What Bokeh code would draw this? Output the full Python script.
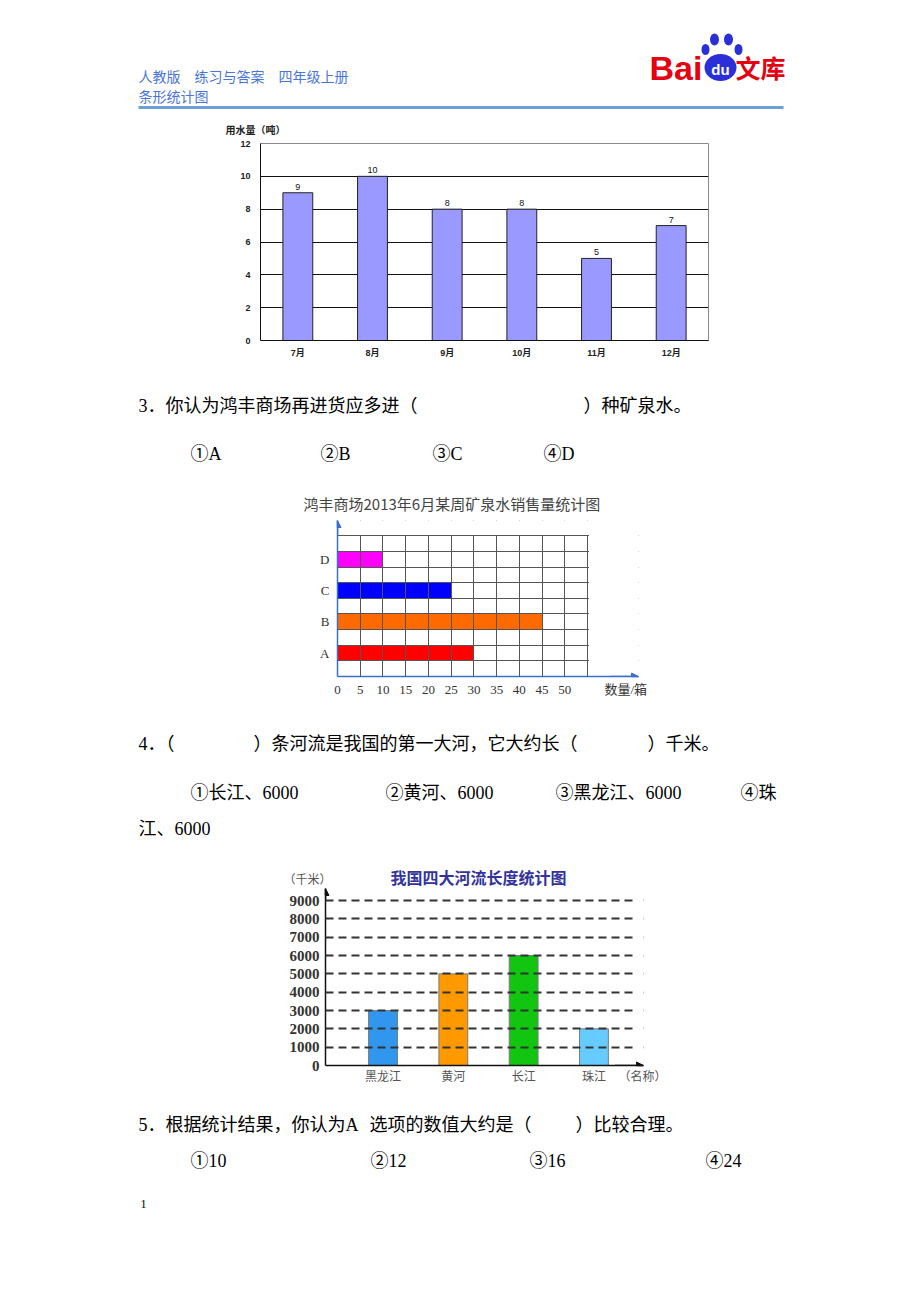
from bokeh.plotting import figure
from bokeh.layouts import column, row
from bokeh.models import Range1d, FactorRange, FixedTicker, BoxAnnotation, Arrow, NormalHead
from bokeh.core.properties import value
from bokeh.embed import file_html
from bokeh.resources import INLINE

# ---------------- data ----------------
months = ["7月", "8月", "9月", "10月", "11月", "12月"]
water_tons = [9, 10, 8, 8, 5, 7]
water_ticks = [0, 2, 4, 6, 8, 10, 12]
water_title = "用水量（吨）"

products = ["A", "B", "C", "D"]
sales_boxes = [30, 45, 25, 10]
product_colors = ["#FF0000", "#FF6A00", "#0000FF", "#FF00FF"]
sales_ticks = [0, 5, 10, 15, 20, 25, 30, 35, 40, 45, 50]
sales_grid = [0, 5, 10, 15, 20, 25, 30, 35, 40, 45, 50, 55]
sales_rows = [0, 1, 2, 3, 4, 5, 6, 7, 8, 9]
sales_title = "鸿丰商场2013年6月某周矿泉水销售量统计图"
sales_unit = "数量/箱"

rivers = ["黑龙江", "黄河", "长江", "珠江"]
river_km = [3000, 5000, 6000, 2000]
river_colors = ["#3096EE", "#FF9900", "#11C511", "#66CCFF"]
km_ticks = [0, 1000, 2000, 3000, 4000, 5000, 6000, 7000, 8000, 9000]
river_title = "我国四大河流长度统计图"
river_yunit = "（千米）"
river_xunit = "（名称）"

header_1 = "人教版　练习与答案　四年级上册"
header_2 = "条形统计图"
q3 = ["3．你认为鸿丰商场再进货应多进（", "）种矿泉水。"]
q3_opts = ["①A", "②B", "③C", "④D"]
q4 = ["4．（", "）条河流是我国的第一大河，它大约长（", "）千米。"]
q4_opts = ["①长江、6000", "②黄河、6000", "③黑龙江、6000", "④珠"]
q4_cont = "江、6000"
q5 = ["5．根据统计结果，你认为A", "选项的数值大约是（", "）比较合理。"]
q5_opts = ["①10", "②12", "③16", "④24"]
page_no = "1"

# ---------------- helpers ----------------
W = 920
CJK = "Noto Sans CJK SC"
SERIF = "Liberation Serif, Noto Sans CJK SC"
SANS = "Liberation Sans, Noto Sans CJK SC"


def no_align(p):
    if "frame_align" in p.properties():
        p.frame_align = False
    return p


def text_fig(y0, y1):
    p = figure(width=W, height=y1 - y0, x_range=Range1d(0, W), y_range=Range1d(y1, y0),
               x_axis_type=None, y_axis_type=None, output_backend="svg",
               toolbar_location=None, min_border=0)
    p.outline_line_color = None
    p.background_fill_color = "white"
    p.border_fill_color = "white"
    return no_align(p)


def put(p, x, y, s, size, color="#000000", font=SERIF, style="normal", align="left"):
    p.text(x=[x], y=[y], text=[s], text_font=value(font), text_font_size=f"{size}px",
           text_color=color, text_baseline="middle", text_align=align, text_font_style=style)


def chart_fig(height, xr, yr, left, right, top, bottom):
    p = figure(width=W, height=height, x_range=xr, y_range=yr, output_backend="svg",
               toolbar_location=None, min_border_left=left, min_border_right=right,
               min_border_top=top, min_border_bottom=bottom)
    p.background_fill_color = "white"
    p.border_fill_color = "white"
    p.axis.major_tick_line_color = None
    p.axis.minor_tick_line_color = None
    p.axis.major_tick_out = 0
    p.axis.major_tick_in = 0
    return no_align(p)


def mask(p, **kw):
    p.add_layout(BoxAnnotation(fill_color="white", fill_alpha=1, line_color=None,
                               level="annotation", **kw))


# ---------------- header (0..137) ----------------
f1 = text_fig(0, 137)
put(f1, 138, 75, header_1, 14, "#4A76D6", CJK)
put(f1, 138, 95, header_2, 14, "#4A76D6", CJK)
f1.line(x=[138, 783], y=[107, 107], line_color="#6A9FD8", line_width=3)
# logo
put(f1, 649, 67, "Bai", 34, "#E50012", "Liberation Sans", "bold")
f1.ellipse(x=[720], y=[67], width=32, height=27, fill_color="#2B2FD8", line_color=None)
f1.ellipse(x=[705, 714, 728, 738], y=[49, 39, 39, 49], width=[8, 9, 9, 8],
           height=[11, 12, 12, 11], fill_color="#2B2FD8", line_color=None)
put(f1, 720, 69, "du", 15, "#FFFFFF", "Liberation Sans", "bold", "center")
put(f1, 735, 66, "文库", 25, "#E50012", CJK, "bold")
put(f1, 225, 129, water_title, 10, "#222222", CJK, "bold")

# ---------------- chart 1 (137..368) ----------------
p1 = chart_fig(231, FactorRange(factors=months, range_padding=0), Range1d(0, 12),
               260, 212, 6, 28)
p1.vbar(x=months, top=water_tons, width=0.4, fill_color="#9999FF", line_color="#222222",
        line_width=1)
p1.text(x=months, y=water_tons, text=[str(v) for v in water_tons], text_font=value(SANS),
        text_font_size="9px", text_align="center", text_baseline="bottom", y_offset=-3,
        text_color="#111111")
p1.yaxis.ticker = FixedTicker(ticks=water_ticks)
p1.xgrid.visible = False
p1.ygrid.grid_line_color = "#111111"
p1.ygrid.grid_line_width = 1
p1.outline_line_color = "#8A8A8A"
p1.axis.axis_line_color = "#111111"
p1.axis.major_label_text_font = SANS
p1.axis.major_label_text_font_size = "9px"
p1.axis.major_label_text_font_style = "bold"
p1.axis.major_label_text_color = "#222222"
p1.yaxis.major_label_standoff = 10
p1.xaxis.major_label_standoff = 7

# ---------------- text block (368..515) ----------------
f3 = text_fig(368, 515)
put(f3, 138, 405, q3[0], 18)
put(f3, 583, 405, q3[1], 18)
for xx, s in zip([190, 320, 432, 543], q3_opts):
    put(f3, xx, 453, s, 18)
put(f3, 303, 503, sales_title, 15, "#444444", CJK)

# ---------------- chart 2 (515..700) ----------------
p2 = chart_fig(185, Range1d(0, 66.2), Range1d(0, 9.98), 337, 282, 5, 24)
ypos = [1.5 + 2 * i for i in range(len(products))]
p2.hbar(y=ypos, left=0, right=sales_boxes, height=1, fill_color=product_colors,
        line_color=None)
p2.yaxis.ticker = FixedTicker(ticks=ypos)
p2.yaxis.major_label_overrides = {y: n for y, n in zip(ypos, products)}
unit_x = 63.4
p2.xaxis.ticker = FixedTicker(ticks=sales_ticks + [unit_x])
p2.xaxis.major_label_overrides = {unit_x: sales_unit}
p2.xgrid.ticker = FixedTicker(ticks=sales_grid)
p2.ygrid.ticker = FixedTicker(ticks=sales_rows)
p2.grid.grid_line_color = "#555555"
p2.grid.grid_line_width = 1
p2.grid.level = "guide"
p2.outline_line_color = None
p2.axis.axis_line_color = "#3A6FD0"
p2.axis.axis_line_width = 1.5
p2.axis.major_label_text_font = SERIF
p2.axis.major_label_text_font_size = "13px"
p2.axis.major_label_text_color = "#333333"
p2.yaxis.major_label_standoff = 8
p2.xaxis.major_label_standoff = 5
mask(p2, left=55.3, right=80, bottom=0.15, top=12)
mask(p2, left=0.35, right=80, bottom=9.06, top=12)
p2.add_layout(Arrow(end=NormalHead(size=7, fill_color="#3A6FD0", line_color="#3A6FD0"),
                    x_start=60, y_start=0, x_end=66.2, y_end=0, line_color="#3A6FD0",
                    line_width=1.5, level="overlay"))
p2.add_layout(Arrow(end=NormalHead(size=7, fill_color="#3A6FD0", line_color="#3A6FD0"),
                    x_start=0, y_start=9, x_end=0, y_end=9.98, line_color="#3A6FD0",
                    line_width=1.5, level="overlay"))

# ---------------- text block (700..888) ----------------
f5 = text_fig(700, 888)
put(f5, 138, 743, q4[0], 18)
put(f5, 253, 743, q4[1], 18)
put(f5, 647, 743, q4[2], 18)
for xx, s in zip([190, 385, 555, 740], q4_opts):
    put(f5, xx, 792, s, 18)
put(f5, 138, 828, q4_cont, 18)
put(f5, 478, 876, river_title, 16, "#333399", CJK, "bold", "center")
put(f5, 283, 879, river_yunit, 12, "#555555", SERIF)

# ---------------- chart 3 (888..1090) ----------------
y3_top = 9656
p3 = chart_fig(202, Range1d(0.182, 4.705), Range1d(0, y3_top), 325, 277, 0, 25)
xpos = [i + 1 for i in range(len(rivers))]
p3.vbar(x=xpos, top=river_km, width=0.41, fill_color=river_colors, line_color="#7A7A7A",
        line_width=1)
unit3 = 4.69
p3.xaxis.ticker = FixedTicker(ticks=xpos + [unit3])
ov = {x: n for x, n in zip(xpos, rivers)}
ov[unit3] = river_xunit
p3.xaxis.major_label_overrides = ov
p3.yaxis.ticker = FixedTicker(ticks=km_ticks)
p3.xgrid.visible = False
p3.ygrid.grid_line_color = "#333333"
p3.ygrid.grid_line_width = 2
p3.ygrid.grid_line_dash = "8 5"
p3.ygrid.level = "guide"
p3.outline_line_color = None
p3.axis.axis_line_color = "#111111"
p3.axis.axis_line_width = 1.5
p3.yaxis.major_label_text_font = "Liberation Serif"
p3.yaxis.major_label_text_font_size = "15px"
p3.yaxis.major_label_text_font_style = "bold"
p3.yaxis.major_label_text_color = "#333333"
p3.yaxis.major_label_standoff = 6
p3.xaxis.major_label_text_font = SERIF
p3.xaxis.major_label_text_font_size = "12px"
p3.xaxis.major_label_text_color = "#555555"
p3.xaxis.major_label_standoff = 4
mask(p3, left=4.58, right=6, bottom=150, top=12000)
p3.add_layout(Arrow(end=NormalHead(size=7, fill_color="#111111", line_color="#111111"),
                    x_start=4.3, y_start=0, x_end=4.705, y_end=0, line_color="#111111",
                    line_width=1.5, level="overlay"))
p3.add_layout(Arrow(end=NormalHead(size=7, fill_color="#111111", line_color="#111111"),
                    x_start=0.182, y_start=9000, x_end=0.182, y_end=y3_top,
                    line_color="#111111", line_width=1.5, level="overlay"))

# ---------------- text block (1090..1302) ----------------
f7 = text_fig(1090, 1302)
put(f7, 138, 1124, q5[0], 18)
put(f7, 369, 1124, q5[1], 18)
put(f7, 575, 1124, q5[2], 18)
for xx, s in zip([190, 370, 529, 705], q5_opts):
    put(f7, xx, 1160, s, 18)
put(f7, 140, 1203, page_no, 12)

figs = [f1, p1, f3, p2, f5, p3, f7]
page = column(*[row(f, spacing=0) for f in figs], spacing=0)
open("out.html", "w").write(file_html(page, INLINE))
